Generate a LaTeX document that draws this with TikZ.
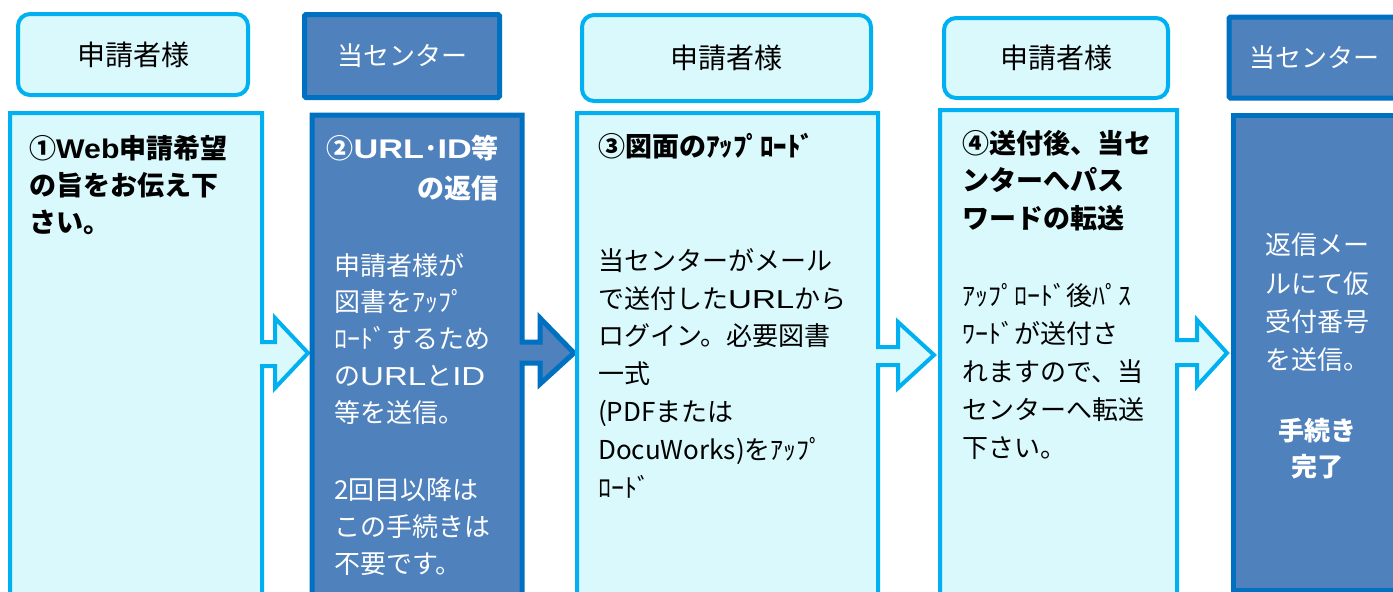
\documentclass[tikz,border=0pt]{standalone}
\usepackage{fontspec}
\setmainfont{Noto Sans CJK JP}
\newfontfamily\latw[FakeStretch=1.27]{Liberation Sans}
\newfontfamily\latb[FakeStretch=1.12]{Liberation Sans}
\newcommand{\wl}[1]{{\latw #1}}
\newcommand{\wb}[1]{{\latb #1}}
\definecolor{lightc}{RGB}{218,249,252}
\definecolor{cyanb}{RGB}{0,176,240}
\definecolor{darkf}{RGB}{79,129,189}
\definecolor{darkb}{RGB}{0,112,192}
\tikzset{
  lightbox/.style={draw=cyanb, fill=lightc, line width=4pt, line join=miter},
  darkbox/.style={draw=darkb, fill=darkf, line width=5pt, line join=miter},
  hlight/.style={lightbox, rounded corners=12pt, text=black, font=\fontsize{28}{30}\selectfont, inner sep=0pt},
  hdark/.style={darkbox, rounded corners=1.5pt, text=white, font=\fontsize{26}{30}\selectfont, inner sep=0pt},
  txt/.style={inner sep=0pt, align=left, anchor=north west},
}
\begin{document}
\begin{tikzpicture}[x=1pt,y=-1pt]
\useasboundingbox (0,0) rectangle (1393,592);
\clip (0,0) rectangle (1393,592);
% headers
\node[hlight, minimum width=230, minimum height=81] (h1) at (133,54.5) {申請者様};
\node[hdark, minimum width=195, minimum height=83] (h2) at (402,56) {当センター};
\node[hlight, minimum width=289, minimum height=86] (h3) at (726.5,58) {申請者様};
\node[hlight, minimum width=224, minimum height=80] (h4) at (1056,58) {申請者様};
\node[hdark, minimum width=170, minimum height=81] (h5) at (1314,57.5) {当センター};
% step boxes with arrows
\draw[lightbox] (10,113) -- (262,113) -- (262,342) -- (275,342) -- (275,318) -- (308,353) -- (275,388) -- (275,366) -- (262,366) -- (262,600) -- (10,600) -- cycle;
\draw[darkbox] (312,115) -- (522,115) -- (522,342) -- (540,342) -- (540,318) -- (574,353) -- (540,384) -- (540,363) -- (522,363) -- (522,600) -- (312,600) -- cycle;
\draw[lightbox] (577,113) -- (878,113) -- (878,347) -- (898,347) -- (898,322) -- (934,355) -- (898,388) -- (898,365) -- (878,365) -- (878,600) -- (577,600) -- cycle;
\draw[lightbox] (940,110) -- (1177,110) -- (1177,340) -- (1197,340) -- (1197,320) -- (1227,353) -- (1197,386) -- (1197,365) -- (1177,365) -- (1177,600) -- (940,600) -- cycle;
\draw[darkbox] (1233,115) rectangle (1400,590);
% texts box 1
\node[txt, font=\fontsize{27}{37}\selectfont\bfseries] (t1) at (29,135) {①\wb{Web}申請希望\\の旨をお伝え下\\さい。};
% box 2
\node[inner sep=0pt, align=right, anchor=north east, text=white, font=\fontsize{27}{40}\selectfont\bfseries] (t2a) at (499,135) {②\wl{URL}･\wl{ID}等\\の返信};
\node[txt, text=white, font=\fontsize{26}{36.75}\selectfont] (t2b) at (334,253) {申請者様が\\図書をｱｯﾌﾟ\\ﾛｰﾄﾞするため\\の\wl{URL}と\wl{ID}\\等を送信。\\[41pt]2回目以降は\\この手続きは\\不要です。};
% box 3
\node[txt, font=\fontsize{27}{37}\selectfont\bfseries] (t3a) at (598,133) {③図面のｱｯﾌﾟﾛｰﾄﾞ};
\node[txt, font=\fontsize{26}{37.8}\selectfont] (t3b) at (598,248) {当センターがメール\\で送付した\wl{URL}から\\ログイン。必要図書\\一式\\(PDFまたは\\DocuWorks)をｱｯﾌﾟ\\ﾛｰﾄﾞ};
% box 4
\node[txt, font=\fontsize{27}{37.5}\selectfont\bfseries] (t4a) at (962,130) {④送付後、当セ\\ンターへパス\\ワードの転送};
\node[txt, font=\fontsize{26}{38}\selectfont] (t4b) at (962,283) {ｱｯﾌﾟﾛｰﾄﾞ後ﾊﾟｽ\\ﾜｰﾄﾞが送付さ\\れますので、当\\センターへ転送\\下さい。};
% box 5
\node[inner sep=0pt, align=center, anchor=north, text=white, font=\fontsize{26}{38.3}\selectfont] (t5a) at (1317,233) {返信メー\\ルにて仮\\受付番号\\を送信。};
\node[inner sep=0pt, align=center, anchor=north, text=white, font=\fontsize{26}{36}\selectfont\bfseries] (t5b) at (1317,418) {手続き\\完了};
\end{tikzpicture}
\end{document}
